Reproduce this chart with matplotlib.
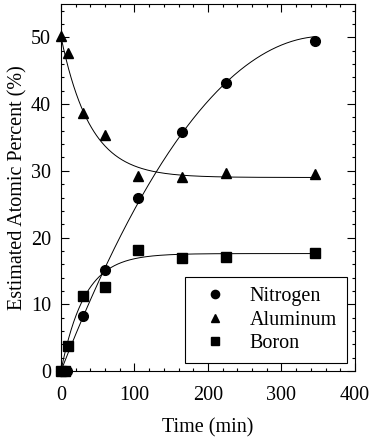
import numpy as np
import matplotlib
matplotlib.use('Agg')
import matplotlib.pyplot as plt
from matplotlib.ticker import MultipleLocator

plt.rcParams['font.family'] = ['Liberation Serif', 'DejaVu Serif']

# measured points (time in min, estimated atomic percent)
n_time = [0, 8, 30, 60, 105, 165, 225, 345]
n_val = [0, 0, 8.2, 15.2, 26.0, 35.8, 43.2, 49.4]

al_time = [0, 10, 30, 60, 105, 165, 225, 345]
al_val = [50.2, 47.6, 38.6, 35.4, 29.2, 29.1, 29.6, 29.5]

b_time = [0, 5, 10, 30, 60, 105, 165, 225, 345]
b_val = [0, 0, 3.8, 11.3, 12.6, 18.2, 16.9, 17.1, 17.7]

# fit parameters
al_fit = (29.0, 21.1, 40.0)   # c + A*exp(-t/tau)
b_fit = (17.6, 32.0)          # A*(1-exp(-t/tau))
n_fit = [1.71e-8, -4.026e-4, 0.28206, 0.0]  # cubic, highest power first
t_end = 345
fs = 14.5

fig = plt.figure(figsize=(3.74, 4.42), dpi=100)
ax = fig.add_axes([0.163, 0.1606, 0.786, 0.8304])

t = np.linspace(0, t_end, 300)
ax.plot(t, np.polyval(n_fit, t), color='black', lw=0.7)
ax.plot(t, al_fit[0] + al_fit[1] * np.exp(-t / al_fit[2]), color='black', lw=0.7)
ax.plot(t, b_fit[0] * (1 - np.exp(-t / b_fit[1])), color='black', lw=0.7)

ax.plot(n_time, n_val, 'o', color='black', ms=7, label='Nitrogen', clip_on=False)
ax.plot(al_time, al_val, '^', color='black', ms=7.5, label='Aluminum', clip_on=False)
ax.plot(b_time, b_val, 's', color='black', ms=6.5, label='Boron', clip_on=False)

ax.set_xlim(0, 400)
ax.set_ylim(0, 55)
ax.xaxis.set_major_locator(MultipleLocator(100))
ax.xaxis.set_minor_locator(MultipleLocator(20))
ax.yaxis.set_major_locator(MultipleLocator(10))
ax.yaxis.set_minor_locator(MultipleLocator(2))
ax.tick_params(which='both', direction='in', top=True, right=True, labelsize=fs, width=0.8)
ax.tick_params(which='major', length=6)
ax.tick_params(which='minor', length=2.5)
ax.tick_params(axis='x', which='major', pad=11)
ax.tick_params(axis='y', which='major', pad=7)
for s in ax.spines.values():
    s.set_linewidth(0.8)

ax.set_xlabel('Time (min)', fontsize=fs, labelpad=9)
ax.set_ylabel('Estimated Atomic Percent (%)', fontsize=fs, labelpad=2.5)

leg = ax.legend(loc='lower right', bbox_to_anchor=(0.972, 0.021), fontsize=fs,
                frameon=True, fancybox=False, edgecolor='black', framealpha=1,
                borderpad=0.5, handlelength=2.0, handletextpad=0.7,
                labelspacing=0.22, borderaxespad=0, markerscale=0.85)
leg.get_frame().set_linewidth(0.8)

fig.savefig('out.png', dpi=100)
